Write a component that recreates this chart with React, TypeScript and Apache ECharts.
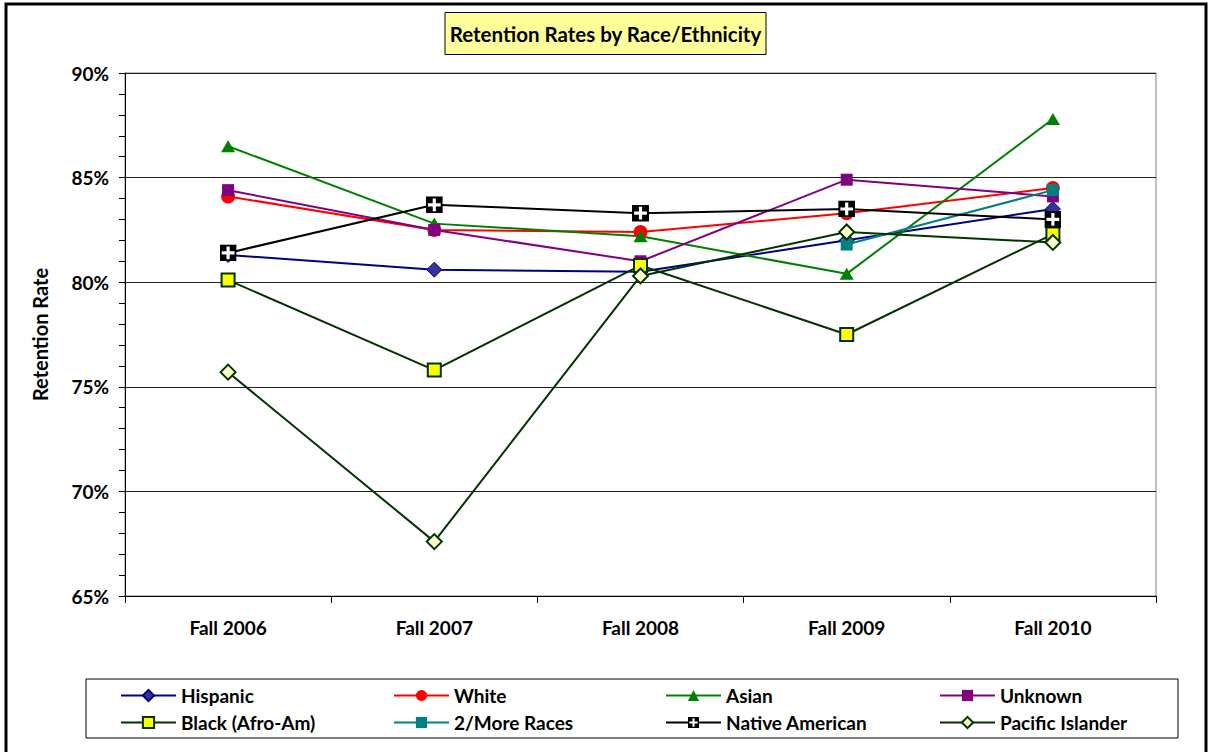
import React, { useEffect, useRef } from "react";
import * as echarts from "echarts";

const categories = ["Fall 2006", "Fall 2007", "Fall 2008", "Fall 2009", "Fall 2010"];
const yTicks = [65, 70, 75, 80, 85, 90];

const hispanic = [81.3, 80.6, 80.5, 82.0, 83.5];
const white = [84.1, 82.5, 82.4, 83.3, 84.5];
const asian = [86.5, 82.8, 82.2, 80.4, 87.8];
const unknown = [84.4, 82.5, 81.0, 84.9, 84.1];
const black = [80.1, 75.8, 80.8, 77.5, 82.3];
const twoMore = [null, null, null, 81.8, 84.4];
const nativeAmerican = [81.4, 83.7, 83.3, 83.5, 83.0];
const pacificIslander = [75.7, 67.6, 80.3, 82.4, 81.9];

const FONT = "Lato, 'Open Sans', sans-serif";
const NATIVE_SVG =
  "<svg xmlns='http://www.w3.org/2000/svg' width='16' height='16' viewBox='0 0 16 16'>" +
  "<rect width='16' height='16' fill='#000'/>" +
  "<path d='M6.5 2h3v4.5H14v3H9.5V14h-3V9.5H2v-3h4.5z' fill='#fff'/></svg>";
const NATIVE_SYMBOL = "image://data:image/svg+xml;charset=utf-8," + encodeURIComponent(NATIVE_SVG);

type SeriesDef = {
  name: string;
  data: (number | null)[];
  color: string;
  symbol: string;
  size: number | number[];
  fill: string;
  border: string;
  borderWidth: number;
};

const seriesDefs: SeriesDef[] = [
  { name: "Hispanic", data: hispanic, color: "#000080", symbol: "diamond", size: 15, fill: "#333399", border: "#000080", borderWidth: 1 },
  { name: "White", data: white, color: "#FF0000", symbol: "circle", size: 14, fill: "#FF0000", border: "#FF0000", borderWidth: 0 },
  { name: "Asian", data: asian, color: "#008000", symbol: "triangle", size: [14, 12], fill: "#008000", border: "#008000", borderWidth: 0 },
  { name: "Unknown", data: unknown, color: "#800080", symbol: "rect", size: 12, fill: "#800080", border: "#800080", borderWidth: 0 },
  { name: "Black (Afro-Am)", data: black, color: "#003300", symbol: "rect", size: 13, fill: "#FFFF00", border: "#003300", borderWidth: 2 },
  { name: "2/More Races", data: twoMore, color: "#008080", symbol: "rect", size: 12, fill: "#008080", border: "#008080", borderWidth: 0 },
  { name: "Native American", data: nativeAmerican, color: "#000000", symbol: NATIVE_SYMBOL, size: 17, fill: "#000000", border: "#000000", borderWidth: 0 },
  { name: "Pacific Islander", data: pacificIslander, color: "#003300", symbol: "diamond", size: 15, fill: "#FFFFCC", border: "#003300", borderWidth: 2 },
];

const legendCols = [120, 393, 665, 939];
const legendRows = [686, 713];

export default function App() {
  const ref = useRef<HTMLDivElement>(null);

  useEffect(() => {
    if (!ref.current) return;
    const chart = echarts.init(ref.current, undefined, { renderer: "svg" });

    const legends = seriesDefs.map((s, i) => ({
      data: [s.name],
      left: legendCols[i % 4],
      top: legendRows[Math.floor(i / 4)],
      itemWidth: 55,
      itemHeight: 14,
      itemGap: 0,
      padding: 0,
      selectedMode: false,
      textStyle: { fontFamily: FONT, fontWeight: "bold", fontSize: 19, color: "#000" },
    }));

    chart.setOption({
      animation: false,
      backgroundColor: "#ffffff",
      title: {
        text: "Retention Rates by Race/Ethnicity",
        left: "center",
        top: 12,
        backgroundColor: "#FFFF99",
        borderColor: "#000",
        borderWidth: 1,
        padding: [10, 5, 10, 5],
        textStyle: { fontFamily: FONT, fontWeight: "bold", fontSize: 20.5, color: "#000", lineHeight: 23 },
      },
      legend: legends,
      grid: {
        left: 125,
        right: 55,
        top: 73,
        bottom: 156,
        show: true,
        borderColor: "#808080",
        borderWidth: 1,
      },
      xAxis: {
        type: "category",
        data: categories,
        boundaryGap: true,
        axisLine: { lineStyle: { color: "#000", width: 1 } },
        axisTick: { show: true, length: 7, alignWithLabel: false, lineStyle: { color: "#000" } },
        axisLabel: {
          margin: 22,
          fontFamily: FONT,
          fontWeight: "bold",
          fontSize: 19,
          color: "#000",
        },
        splitLine: { show: false },
      },
      yAxis: {
        type: "value",
        min: yTicks[0],
        max: yTicks[yTicks.length - 1],
        interval: 5,
        name: "Retention Rate",
        nameLocation: "middle",
        nameRotate: 90,
        nameGap: 75,
        nameTextStyle: { fontFamily: FONT, fontWeight: "bold", fontSize: 20, color: "#000" },
        axisLine: { show: true, lineStyle: { color: "#000", width: 1 } },
        axisTick: { show: true, length: 6, lineStyle: { color: "#000" } },
        minorTick: { show: true, splitNumber: 5, length: 6, lineStyle: { color: "#000" } },
        axisLabel: {
          margin: 16,
          formatter: (v: number) => `${v}%`,
          fontFamily: FONT,
          fontWeight: "bold",
          fontSize: 19,
          color: "#000",
        },
        splitLine: { show: true, lineStyle: { color: "#222", width: 1 } },
      },
      graphic: [
        {
          type: "rect",
          shape: { x: 6, y: 4, width: 1200, height: 760 },
          style: { fill: "none", stroke: "#000", lineWidth: 3 },
          silent: true,
          z: 100,
        },
        {
          type: "rect",
          shape: { x: 86, y: 679, width: 1092, height: 59 },
          style: { fill: "none", stroke: "#000", lineWidth: 1 },
          silent: true,
          z: 100,
        },
      ],
      series: seriesDefs.map((s) => ({
        name: s.name,
        type: "line",
        data: s.data,
        symbol: s.symbol,
        symbolSize: s.size,
        showSymbol: true,
        connectNulls: false,
        lineStyle: { color: s.color, width: 2 },
        itemStyle: { color: s.fill, borderColor: s.border, borderWidth: s.borderWidth },
        emphasis: { disabled: true },
      })),
    });

    return () => chart.dispose();
  }, []);

  return (
    <div
      ref={ref}
      style={{ position: "absolute", left: 0, top: 0, width: 1211, height: 752 }}
    />
  );
}
